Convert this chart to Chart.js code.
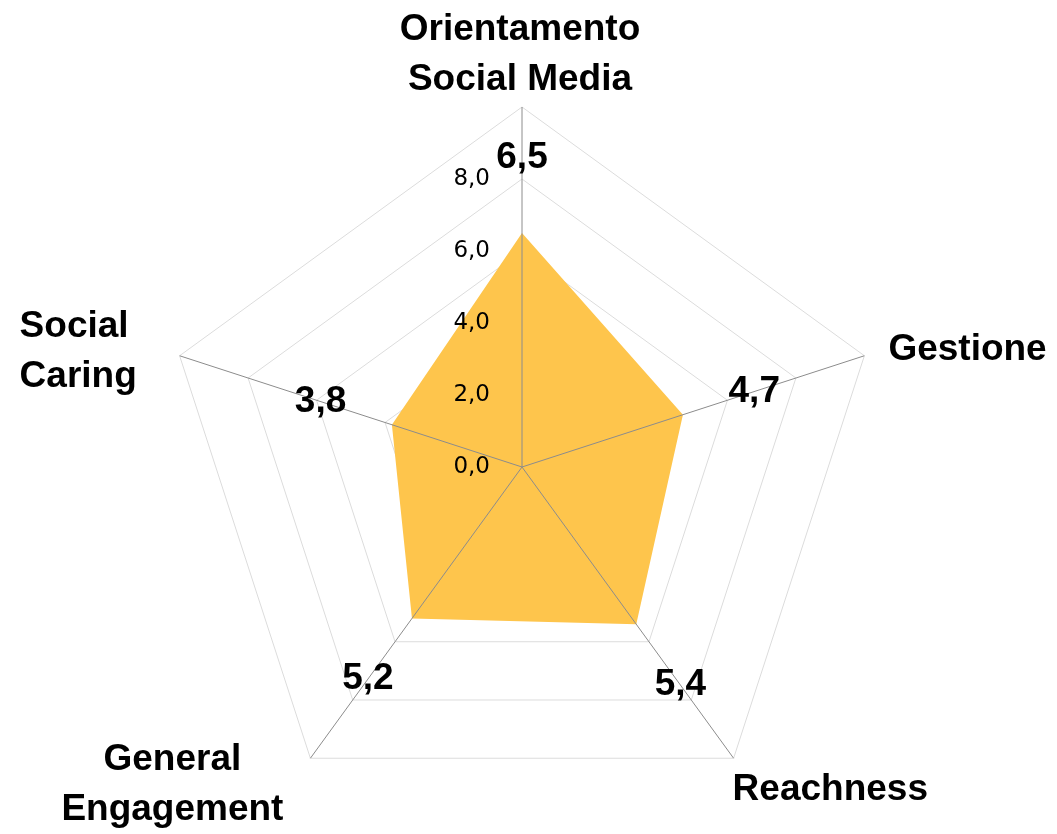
<!DOCTYPE html>
<html lang="it">
<head>
<meta charset="utf-8">
<title>Radar social</title>
<script src="https://cdn.jsdelivr.net/npm/chart.js@4/dist/chart.umd.min.js"></script>
<style>
  html, body { margin: 0; padding: 0; background: #fff; }
  #wrap { width: 1057px; height: 834px; position: relative; }
</style>
</head>
<body>
<div id="wrap"><canvas id="radar"></canvas></div>
<script>
/* ── DATA ─────────────────────────────────────────────────── */
const categories = [
  ['Orientamento', 'Social Media'],
  ['Gestione'],
  ['Reachness'],
  ['General', 'Engagement'],
  ['Social', 'Caring']
];
const scores = [6.5, 4.7, 5.4, 5.2, 3.8];
const tickValues = [0, 2, 4, 6, 8];
const scaleMax = 10;

/* ── STYLE ────────────────────────────────────────────────── */
const FILL = '#fec54c';
const GRID = '#dcdcdc';
const SPOKE = '#8c8c8c';
const BOLD = 'bold 37px "Liberation Sans", Arial, sans-serif';
const TICK = '23px "DejaVu Sans", sans-serif';

// where each category label sits relative to the outer vertex of its spoke
const labelPlacement = [
  { align: 'center', dx: -2,   dy: -77 },
  { align: 'left',   dx: 24,   dy: -6 },
  { align: 'left',   dx: -1,   dy: 32 },
  { align: 'center', dx: -138, dy: 2 },
  { align: 'left',   dx: -160, dy: -29 }
];
const LINE_H = 50;
const VALUE_GAP = 75;

const fmt = v => v.toFixed(1).replace('.', ',');

/* ── OVERLAY: spokes, ticks, values, category names ───────── */
const radarOverlay = {
  id: 'radarOverlay',
  afterDatasetsDraw(chart) {
    const r = chart.scales.r;
    const ctx = chart.ctx;
    const n = chart.data.labels.length;
    ctx.save();

    // spokes go over the filled area
    ctx.strokeStyle = SPOKE;
    ctx.lineWidth = 1;
    for (let i = 0; i < n; i++) {
      const p = r.getPointPosition(i, r.drawingArea);
      ctx.beginPath();
      ctx.moveTo(r.xCenter, r.yCenter);
      ctx.lineTo(p.x, p.y);
      ctx.stroke();
    }

    // tick labels along the top spoke, shifted left
    ctx.font = TICK;
    ctx.fillStyle = '#000';
    ctx.textAlign = 'right';
    ctx.textBaseline = 'middle';
    tickValues.forEach(v => {
      const y = r.yCenter - r.getDistanceFromCenterForValue(v);
      ctx.fillText(fmt(v), r.xCenter - 32, y);
    });

    // value labels beyond each point
    ctx.font = BOLD;
    ctx.textAlign = 'center';
    scores.forEach((v, i) => {
      const p = r.getPointPosition(i, r.getDistanceFromCenterForValue(v) + VALUE_GAP);
      ctx.fillText(fmt(v), p.x, p.y);
    });

    // category names
    categories.forEach((lines, i) => {
      const v = r.getPointPosition(i, r.drawingArea);
      const pl = labelPlacement[i];
      ctx.textAlign = pl.align;
      lines.forEach((t, k) => {
        ctx.fillText(t, v.x + pl.dx, v.y + pl.dy + k * LINE_H);
      });
    });

    ctx.restore();
  }
};

/* ── CHART ────────────────────────────────────────────────── */
new Chart(document.getElementById('radar'), {
  type: 'radar',
  data: {
    labels: categories,
    datasets: [{
      data: scores,
      backgroundColor: FILL,
      borderWidth: 0,
      pointRadius: 0,
      fill: true
    }]
  },
  options: {
    responsive: true,
    maintainAspectRatio: false,
    animation: false,
    layout: { padding: { left: 162, right: 175, top: 107, bottom: 7 } },
    plugins: { legend: { display: false }, tooltip: { enabled: false } },
    scales: {
      r: {
        min: 0,
        max: scaleMax,
        ticks: { stepSize: 2, display: false },
        grid: { color: GRID, lineWidth: 1 },
        angleLines: { display: false },
        pointLabels: { display: false }
      }
    }
  },
  plugins: [radarOverlay]
});
</script>
</body>
</html>
